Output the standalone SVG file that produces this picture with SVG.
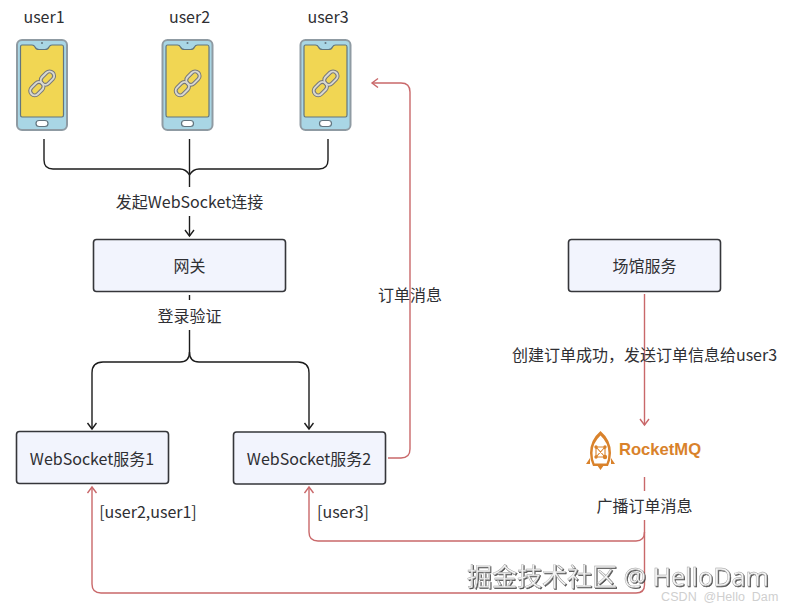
<svg xmlns="http://www.w3.org/2000/svg" xmlns:xlink="http://www.w3.org/1999/xlink" width="788" height="609" viewBox="0 0 788 609">
<style>
text{font-family:"Noto Sans CJK SC","Noto Sans",sans-serif;font-size:16px;fill:#2f2f33;text-anchor:middle}
.box{fill:#f2f4fd;stroke:#35363a;stroke-width:1.6}
.k{fill:none;stroke:#1c1c1c;stroke-width:1.4}
.r{fill:none;stroke:#c9686a;stroke-width:1.4}
.wm{font-family:"Noto Sans","Noto Sans CJK SC",sans-serif;font-size:25px;fill:#f4f4f4;stroke:#9a9a9a;stroke-width:.4;text-anchor:start;filter:url(#sh)}
.wm2{font-family:"Liberation Sans",sans-serif;font-size:12.500px;fill:#cfcfcf;text-anchor:start;letter-spacing:.1px;word-spacing:3px}
.or{fill:#d9822b}
</style>
<defs>
<filter id="sh" x="-5%" y="-20%" width="110%" height="150%"><feDropShadow dx="1" dy="1" stdDeviation=".3" flood-color="#3c3c3c" flood-opacity=".9"/></filter>
<marker id="ak" markerWidth="12" markerHeight="12" refX="9" refY="5" orient="auto" markerUnits="userSpaceOnUse"><path d="M3 0.5L9 5L3 9.5" fill="none" stroke="#1c1c1c" stroke-width="1.4"/></marker>
<marker id="ar" markerWidth="12" markerHeight="12" refX="9" refY="5" orient="auto" markerUnits="userSpaceOnUse"><path d="M3 0.5L9 5L3 9.5" fill="none" stroke="#c9686a" stroke-width="1.4"/></marker>
<g id="phone">
<rect x="0" y="0" width="50" height="90" rx="5" fill="#a9d6e5" stroke="#8f9ba3" stroke-width="2"/>
<path d="M5 5H15Q17 5 18 7Q19 9.500 22 9.500H28Q31 9.500 32 7Q33 5 35 5H45Q46.500 5 46.500 7V75Q46.500 77 45 77H5Q3.500 77 3.500 75V7Q3.500 5 5 5Z" fill="#f1d653" stroke="#62757f" stroke-width="1.200"/>
<rect x="19" y="80.500" width="12" height="6" rx="3" fill="#fff" stroke="#62757f" stroke-width="1.200"/>
<circle cx="25" cy="3" r="1" fill="#62757f"/>
<g fill="none" transform="rotate(-45 25.500 43)">
<rect x="10" y="38.500" width="15" height="9" rx="4.500" stroke="#77787a" stroke-width="4"/>
<rect x="25" y="38.500" width="15" height="9" rx="4.500" stroke="#77787a" stroke-width="4"/>
<rect x="10" y="38.500" width="15" height="9" rx="4.500" stroke="#d8d8d2" stroke-width="2"/>
<rect x="25" y="38.500" width="15" height="9" rx="4.500" stroke="#d8d8d2" stroke-width="2"/>
</g>
</g>
</defs>
<rect width="788" height="609" fill="#fff"/>

<g id="connectors">
<path class="k" d="M44 139V160Q44 169 53 169H180Q186 169 189.500 175Q193 169 199 169H319Q328 169 328 160V139"/>
<path class="k" d="M189.500 139V187"/>
<path class="k" d="M189.500 216V236" marker-end="url(#ak)"/>
<path class="k" d="M189.500 295V300"/>
<path class="k" d="M189.500 330V352Q189.500 362 180 362H103Q92 362 92 373V429" marker-end="url(#ak)"/>
<path class="k" d="M189.500 352Q189.500 362 199 362H298Q309 362 309 373V429" marker-end="url(#ak)"/>
<path class="r" d="M388 458H401Q410 458 410 449V92Q410 83 401 83H372" marker-end="url(#ar)"/>
<path class="r" d="M644.500 294V425" marker-end="url(#ar)"/>
<path class="r" d="M644.500 477V491"/>
<path class="r" d="M644.500 520V585Q644.500 593 636 593H101Q92 593 92 584V487" marker-end="url(#ar)"/>
<path class="r" d="M644.500 532Q644.500 541 636 541H318Q309 541 309 532V487" marker-end="url(#ar)"/>
</g>

<g id="user1"><text x="44" y="23">user1</text><use xlink:href="#phone" href="#phone" x="17" y="40"/></g>
<g id="user2"><text x="189.500" y="23">user2</text><use xlink:href="#phone" href="#phone" x="162.500" y="40"/></g>
<g id="user3"><text x="328" y="23">user3</text><use xlink:href="#phone" href="#phone" x="300.500" y="40"/></g>

<g id="gateway"><rect class="box" x="93.500" y="239.500" width="192" height="52" rx="3"/><text x="189.500" y="272">网关</text></g>
<g id="ws1"><rect class="box" x="16.500" y="431.500" width="152" height="52" rx="3"/><text x="92" y="465">WebSocket服务1</text></g>
<g id="ws2"><rect class="box" x="233.500" y="432" width="152" height="52" rx="3"/><text x="309" y="465">WebSocket服务2</text></g>
<g id="venue"><rect class="box" x="568.500" y="239.500" width="152" height="52" rx="3"/><text x="644.500" y="272">场馆服务</text></g>

<g id="rocketmq">
<path class="or" fill-rule="evenodd" d="M600.500 431Q611 440 611 453Q611 460 608 466H593Q590 460 590 453Q590 440 600.500 431ZM600.500 435.500Q592.500 443 592.500 453Q592.500 459 594.500 463.500H606.500Q608.500 459 608.500 453Q608.500 443 600.500 435.500Z"/>
<path d="M596 447H605V457H596ZM596 447L605 457M605 447L596 457" fill="none" stroke="#d9822b" stroke-width="1.100"/>
<circle class="or" cx="596" cy="447" r="1.700"/><circle class="or" cx="605" cy="447" r="1.700"/><circle class="or" cx="596" cy="457" r="1.700"/><circle class="or" cx="605" cy="457" r="2.200"/>
<path class="or" d="M586 464L590 458V464ZM615 464L611 458V464ZM597 465H604L600.500 470Z"/>
<text x="619" y="455" style="font-family:'Liberation Sans',sans-serif;font-size:16.600px;font-weight:700;fill:#d9822b;text-anchor:start">RocketMQ</text>
</g>

<g id="labels">
<text x="189.500" y="208">发起WebSocket连接</text>
<text x="189.500" y="322">登录验证</text>
<text x="410" y="301">订单消息</text>
<text x="644.500" y="361">创建订单成功，发送订单信息给user3</text>
<text x="644.500" y="512">广播订单消息</text>
<text x="148" y="518">[user2,user1]</text>
<text x="343" y="518">[user3]</text>
</g>

<g id="watermarks">
<text class="wm" x="467" y="586">掘金技术社区 @ HelloDam</text>
<text class="wm2" x="661" y="601">CSDN @Hello Dam</text>
</g>
</svg>
